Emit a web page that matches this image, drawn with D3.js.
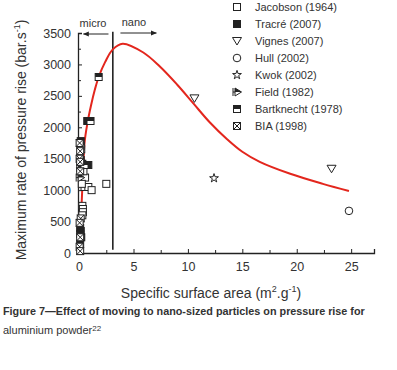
<!DOCTYPE html>
<html lang="en">
<head>
    <meta charset="UTF-8">
    <script src="https://cdnjs.cloudflare.com/ajax/libs/d3/7.8.5/d3.min.js"></script>
    <style>
        body { margin: 0; background: #fff; }
        text { font-family: "Liberation Sans", Arial, sans-serif; fill: #333; }
    </style>
</head>
<body>
<svg id="chart" width="397" height="370"></svg>
<script>
    // series (x = m2/g, y = bar/s)
    const jacobson = [[0.25, 1250], [0.55, 1200], [0.5, 1050], [0.85, 1050], [1.15, 1000], [2.5, 1100],
        [0.25, 1100], [0.3, 750], [0.35, 700], [0.35, 650], [0.3, 600], [0.4, 1300], [0.2, 1650], [0.15, 1700]];
    const tracre = [[0.3, 1420], [0.6, 1400], [0.85, 1400], [0.15, 1480], [0.1, 400], [0.15, 350], [0.1, 300],
        [0.2, 250], [0.1, 150], [0.75, 2100], [0.15, 1780]];
    const vignes = [[10.6, 2460], [23.2, 1340]];
    const hull = [[24.8, 670]];
    const kwok = [[12.4, 1190]];
    const field = [[0.15, 1350], [0.1, 1200]];
    const bartknecht = [[1.8, 2800], [1.05, 2100], [0.5, 1400]];
    const bia = [[0.05, 1750], [0.1, 1620], [0.05, 1500], [0.1, 1450], [0.1, 1300], [0.15, 550], [0.05, 480],
        [0.1, 250], [0.05, 100], [0.1, 30]];

    const fitCurve = [[0.05, 0], [0.2, 650], [0.35, 1250], [0.5, 1750], [0.75, 2050], [1.1, 2350], [1.45, 2600],
        [1.8, 2800], [2.4, 3040], [3.1, 3240], [4.0, 3330], [5.9, 3190], [7.4, 2970], [9.0, 2680], [10.5, 2380],
        [12.0, 2080], [13.6, 1810], [15.0, 1610], [16.6, 1450], [19.4, 1260], [22.4, 1100], [24.8, 986]];

    const boundaryX = 3.1;
    const xTicks = [0, 5, 10, 15, 20, 25];
    const yTicks = [0, 500, 1000, 1500, 2000, 2500, 3000, 3500];

    const legendNames = ['Jacobson (1964)', 'Tracré (2007)', 'Vignes (2007)', 'Hull (2002)', 'Kwok (2002)',
        'Field (1982)', 'Bartknecht (1978)', 'BIA (1998)'];
    const legendKeys = ['square', 'filled', 'triangle', 'circle', 'star', 'field', 'half', 'cross'];

    const svg = d3.select('#chart');
    const ink = '#222';

    const xScale = d3.scaleLinear().domain([-0.1, 27.1]).range([78, 374]);
    const yScale = d3.scaleLinear().domain([0, 3500]).range([253, 33]);

    // axes with inward ticks
    const xAxis = d3.axisBottom(xScale).tickValues(xTicks).tickSize(-4).tickPadding(9).tickFormat(d3.format('d'));
    const xMinor = d3.axisBottom(xScale).tickValues(d3.range(2.5, 27, 5)).tickSize(-3).tickFormat('');
    const yAxis = d3.axisLeft(yScale).tickValues(yTicks).tickSize(-4).tickPadding(7).tickFormat(d3.format('d'));
    const yMinor = d3.axisLeft(yScale).tickValues(d3.range(250, 3500, 500)).tickSize(-3).tickFormat('');

    function styleAxis(g) {
        g.selectAll('path, line').attr('stroke', ink).attr('stroke-width', 1);
        g.select('.domain').attr('stroke-width', 1.3);
        g.selectAll('text').style('font-size', '12.5px').attr('fill', '#333');
    }

    svg.append('g').attr('transform', 'translate(0,' + yScale(0) + ')').call(xAxis).call(styleAxis);
    svg.append('g').attr('transform', 'translate(0,' + yScale(0) + ')').call(xMinor).call(styleAxis)
        .select('.domain').remove();
    svg.append('g').attr('transform', 'translate(' + xScale(-0.1) + ',0)').call(yAxis).call(styleAxis);
    svg.append('g').attr('transform', 'translate(' + xScale(-0.1) + ',0)').call(yMinor).call(styleAxis)
        .select('.domain').remove();

    // micro / nano boundary
    svg.append('line')
        .attr('x1', xScale(boundaryX)).attr('x2', xScale(boundaryX))
        .attr('y1', yScale(3520)).attr('y2', yScale(50))
        .attr('stroke', ink).attr('stroke-width', 1.6);

    svg.append('defs').append('marker')
        .attr('id', 'arrow').attr('viewBox', '0 0 10 10').attr('refX', 9).attr('refY', 5)
        .attr('markerWidth', 6).attr('markerHeight', 6).attr('orient', 'auto-start-reverse')
        .append('path').attr('d', 'M0,1L10,5L0,9Z').attr('fill', ink);

    svg.append('line').attr('x1', xScale(2.7)).attr('x2', xScale(0.4)).attr('y1', 34).attr('y2', 34)
        .attr('stroke', ink).attr('stroke-width', 1).attr('marker-end', 'url(#arrow)');
    svg.append('line').attr('x1', xScale(3.8)).attr('x2', xScale(7.1)).attr('y1', 33).attr('y2', 33)
        .attr('stroke', ink).attr('stroke-width', 1).attr('marker-end', 'url(#arrow)');
    svg.append('text').attr('x', 93).attr('y', 27).attr('text-anchor', 'middle')
        .style('font-size', '11px').text('micro');
    svg.append('text').attr('x', 134).attr('y', 26).attr('text-anchor', 'middle')
        .style('font-size', '11px').text('nano');

    // fitted curve
    const line = d3.line().x(d => xScale(d[0])).y(d => yScale(d[1])).curve(d3.curveCatmullRom.alpha(0.5));
    svg.append('path').datum(fitCurve).attr('d', line)
        .attr('fill', 'none').attr('stroke', '#e3261d').attr('stroke-width', 2);

    // symbol painters, centred on 0,0
    function drawSymbol(g, key) {
        const s = 3.5;
        if (key === 'square' || key === 'filled' || key === 'half' || key === 'cross') {
            g.append('rect').attr('x', -s).attr('y', -s).attr('width', 2 * s).attr('height', 2 * s)
                .attr('fill', key === 'filled' ? ink : '#fff').attr('stroke', ink).attr('stroke-width', 1);
            if (key === 'half') {
                g.append('rect').attr('x', -s).attr('y', -s).attr('width', 2 * s).attr('height', s)
                    .attr('fill', ink);
            }
            if (key === 'cross') {
                g.append('path').attr('d', `M${-s},${-s}L${s},${s}M${s},${-s}L${-s},${s}`)
                    .attr('stroke', ink).attr('stroke-width', 1);
            }
        } else if (key === 'triangle') {
            g.append('path').attr('d', 'M-4.5,-3.5L4.5,-3.5L0,4Z')
                .attr('fill', '#fff').attr('stroke', ink).attr('stroke-width', 1);
        } else if (key === 'circle') {
            g.append('circle').attr('r', 3.8).attr('fill', '#fff').attr('stroke', ink).attr('stroke-width', 1);
        } else if (key === 'star') {
            g.append('path').attr('d', d3.symbol(d3.symbolStar, 24)())
                .attr('fill', '#fff').attr('stroke', ink).attr('stroke-width', 1);
        } else if (key === 'field') {
            g.append('path').attr('d', 'M-2,-4L4.5,0L-2,4Z')
                .attr('fill', '#fff').attr('stroke', ink).attr('stroke-width', 1);
            g.append('path').attr('d', 'M-2,-4L4.5,0L-2,0Z').attr('fill', ink);
            g.append('path').attr('d', 'M-4,-4V4M-4,0H-2').attr('stroke', ink).attr('stroke-width', 1);
        }
    }

    const seriesData = [jacobson, tracre, vignes, hull, kwok, field, bartknecht, bia];
    seriesData.forEach((pts, i) => {
        svg.append('g').selectAll('g').data(pts).enter().append('g')
            .attr('transform', d => 'translate(' + xScale(d[0]) + ',' + yScale(d[1]) + ')')
            .each(function () { drawSymbol(d3.select(this), legendKeys[i]); });
    });

    // legend
    const legend = svg.append('g').attr('transform', 'translate(237,7)');
    legendNames.forEach((name, i) => {
        const row = legend.append('g').attr('transform', 'translate(0,' + (i * 17) + ')');
        drawSymbol(row, legendKeys[i]);
        row.append('text').attr('x', 18).attr('y', 4).style('font-size', '11px').text(name);
    });

    // axis titles
    const xt = svg.append('text').attr('x', 211).attr('y', 298).attr('text-anchor', 'middle')
        .style('font-size', '14px');
    xt.append('tspan').text('Specific surface area (m');
    xt.append('tspan').attr('dy', -6).style('font-size', '9px').text('2');
    xt.append('tspan').attr('dy', 6).text('.g');
    xt.append('tspan').attr('dy', -6).style('font-size', '9px').text('-1');
    xt.append('tspan').attr('dy', 6).text(')');

    const yt = svg.append('text').attr('transform', 'translate(26,140) rotate(-90)')
        .attr('text-anchor', 'middle').style('font-size', '14px');
    yt.append('tspan').text('Maximum rate of pressure rise (bar.s');
    yt.append('tspan').attr('dy', -6).style('font-size', '9px').text('-1');
    yt.append('tspan').attr('dy', 6).text(')');

    // caption
    svg.append('text').attr('x', 3).attr('y', 315).style('font-size', '10.8px').style('font-weight', 'bold')
        .text('Figure 7—Effect of moving to nano-sized particles on pressure rise for');
    const cap = svg.append('text').attr('x', 3).attr('y', 334).style('font-size', '11px');
    cap.append('tspan').text('aluminium powder');
    cap.append('tspan').attr('dy', -3).style('font-size', '8px').text('22');
</script>
</body>
</html>
